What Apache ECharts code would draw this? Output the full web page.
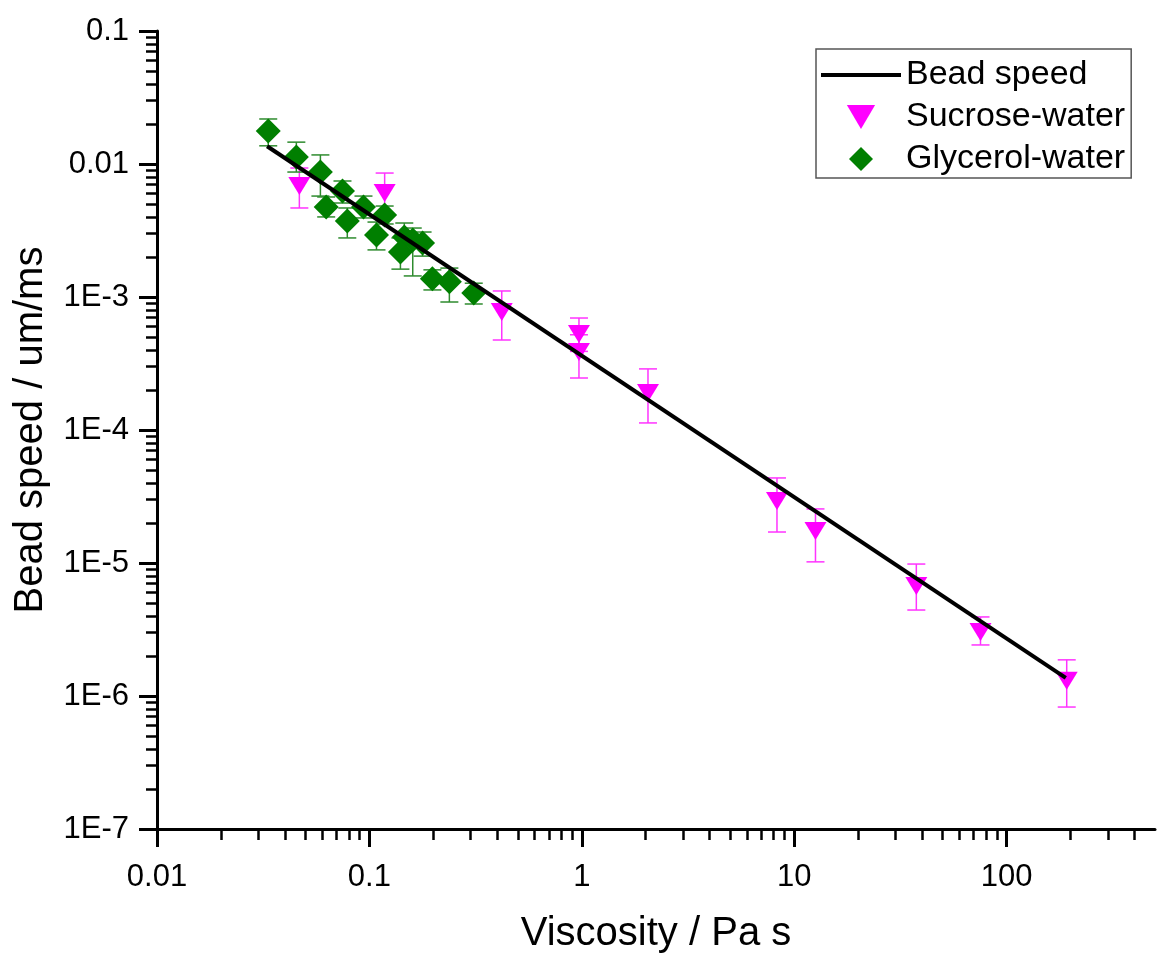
<!DOCTYPE html>
<html>
<head>
<meta charset="utf-8">
<title>Bead speed vs viscosity</title>
<script src="https://cdn.jsdelivr.net/npm/echarts@6/dist/echarts.min.js"></script>
<style>
  html, body { margin: 0; padding: 0; background: #fff; }
  #chart { width: 1158px; height: 957px; }
</style>
</head>
<body>
<div id="chart"></div>
<script>
// fitted line (two end points)
var fitX = [0.033, 190];
var fitY = [0.0136, 1.37e-6];

// sucrose-water: viscosity, speed, error low / high
var sucroseX = [0.0468, 0.118, 0.42, 0.97, 0.97, 2.05, 8.3, 12.6, 37.6, 75.4, 192];
var sucroseY = [6.84e-3, 6.05e-3, 7.71e-4, 5.27e-4, 3.86e-4, 1.90e-4, 2.92e-5, 1.74e-5, 6.71e-6, 3.03e-6, 1.30e-6];
var sucroseLo = [4.67e-3, 4.21e-3, 4.75e-4, 3.9e-4, 2.46e-4, 1.13e-4, 1.71e-5, 1.02e-5, 4.43e-6, 2.42e-6, 8.26e-7];
var sucroseHi = [9.33e-3, 8.55e-3, 1.11e-3, 6.95e-4, 5.2e-4, 2.88e-4, 4.36e-5, 2.55e-5, 9.82e-6, 3.93e-6, 1.87e-6];

// glycerol-water
var glycerolX = [0.0334, 0.0453, 0.0588, 0.0747, 0.0626, 0.0787, 0.0938, 0.108, 0.118, 0.146, 0.140, 0.160, 0.178, 0.198, 0.238, 0.310];
var glycerolY = [0.0177, 0.0113, 8.71e-3, 6.27e-3, 4.75e-3, 3.73e-3, 4.75e-3, 2.92e-3, 4.14e-3, 2.83e-3, 2.18e-3, 2.68e-3, 2.55e-3, 1.37e-3, 1.30e-3, 1.07e-3];
var glycerolLo = [0.0137, 8.7e-3, 5.74e-3, 5.09e-3, 4.0e-3, 2.78e-3, 3.93e-3, 2.26e-3, 3.54e-3, 2.22e-3, 1.62e-3, 1.44e-3, 2.03e-3, 1.13e-3, 9.17e-4, 8.86e-4];
var glycerolHi = [0.0218, 0.0146, 0.0117, 7.45e-3, 5.65e-3, 4.67e-3, 5.74e-3, 3.66e-3, 4.83e-3, 3.60e-3, 2.78e-3, 3.30e-3, 3.08e-3, 1.60e-3, 1.65e-3, 1.27e-3];

// axis ticks
var xMajor = [0.01, 0.1, 1, 10, 100];
var yMajor = [1e-7, 1e-6, 1e-5, 1e-4, 1e-3, 0.01, 0.1];

function minorTicks(lo, hi) {
  var out = [];
  for (var d = lo; d < hi; d *= 10) {
    for (var k = 2; k <= 9; k++) {
      var v = Number((d * k).toPrecision(2));
      if (v < hi) out.push(v);
    }
  }
  return out;
}
var xMinor = minorTicks(0.01, 500);
var yMinor = minorTicks(1e-7, 0.1);

function xFmt(v) {
  return String(Number(v.toPrecision(1)));
}
function yFmt(v) {
  var e = Math.round(Math.log10(v));
  return e >= -2 ? String(Number(v.toPrecision(1))) : '1E' + e;
}

function pairs(xs, ys) {
  return xs.map(function (x, i) { return [x, ys[i]]; });
}
function triples(xs, lo, hi) {
  return xs.map(function (x, i) { return [x, lo[i], hi[i]]; });
}

function errRender(color) {
  return function (params, api) {
    var x = api.value(0);
    var a = api.coord([x, api.value(1)]);
    var b = api.coord([x, api.value(2)]);
    var cap = 9;
    var st = { stroke: color, lineWidth: 1.5 };
    return {
      type: 'group',
      children: [
        { type: 'line', shape: { x1: a[0], y1: a[1], x2: b[0], y2: b[1] }, style: st },
        { type: 'line', shape: { x1: a[0] - cap, y1: a[1], x2: a[0] + cap, y2: a[1] }, style: st },
        { type: 'line', shape: { x1: b[0] - cap, y1: b[1], x2: b[0] + cap, y2: b[1] }, style: st }
      ]
    };
  };
}

var font = 'Liberation Sans, Arial, sans-serif';
var axisColor = '#000';

var chart = echarts.init(document.getElementById('chart'));

var option = {
  animation: false,
  backgroundColor: '#fff',
  textStyle: { fontFamily: font, color: '#000' },
  grid: {
    left: 157,
    right: 3,
    top: 31,
    bottom: 128,
    containLabel: false,
    outerBoundsMode: 'none'
  },
  legend: {
    orient: 'vertical',
    left: 816,
    top: 49,
    itemWidth: 80,
    itemHeight: 24,
    itemGap: 8,
    padding: [9, 6, 2, 3],
    borderColor: '#555',
    borderWidth: 1.5,
    textStyle: { fontSize: 34, color: '#000', fontFamily: font },
    data: [
      { name: 'Bead speed', itemStyle: { opacity: 0 }, lineStyle: { width: 4, color: '#000' } },
      'Sucrose-water',
      'Glycerol-water'
    ]
  },
  xAxis: [
    {
      type: 'log',
      min: 0.01,
      max: 500,
      name: 'Viscosity / Pa s',
      nameLocation: 'middle',
      nameGap: 85,
      nameTextStyle: { fontSize: 40, color: '#000', fontFamily: font },
      axisLine: { show: true, lineStyle: { color: axisColor, width: 3 } },
      axisTick: { show: true, length: 18, lineStyle: { color: axisColor, width: 3 }, customValues: xMajor },
      axisLabel: { fontSize: 31, color: '#000', margin: 33, customValues: xMajor, formatter: xFmt },
      splitLine: { show: false }
    },
    {
      type: 'log',
      min: 0.01,
      max: 500,
      position: 'bottom',
      axisLine: { show: false },
      axisTick: { show: true, length: 11, lineStyle: { color: axisColor, width: 2.5 }, customValues: xMinor },
      axisLabel: { show: false },
      splitLine: { show: false }
    }
  ],
  yAxis: [
    {
      type: 'log',
      min: 1e-7,
      max: 0.1,
      name: 'Bead speed / um/ms',
      nameLocation: 'middle',
      nameGap: 106,
      nameTextStyle: { fontSize: 40, color: '#000', fontFamily: font },
      axisLine: { show: true, lineStyle: { color: axisColor, width: 3 } },
      axisTick: { show: true, length: 18, lineStyle: { color: axisColor, width: 3 }, customValues: yMajor },
      axisLabel: { fontSize: 31, color: '#000', margin: 28, customValues: yMajor, formatter: yFmt },
      splitLine: { show: false }
    },
    {
      type: 'log',
      min: 1e-7,
      max: 0.1,
      position: 'left',
      axisLine: { show: false },
      axisTick: { show: true, length: 11, lineStyle: { color: axisColor, width: 2.5 }, customValues: yMinor },
      axisLabel: { show: false },
      splitLine: { show: false }
    }
  ],
  series: [
    {
      name: 'Sucrose-water err',
      type: 'custom',
      silent: true,
      z: 2,
      renderItem: errRender('#ff33ff'),
      encode: { x: 0, y: [1, 2] },
      data: triples(sucroseX, sucroseLo, sucroseHi)
    },
    {
      name: 'Glycerol-water err',
      type: 'custom',
      silent: true,
      z: 2,
      renderItem: errRender('#2e8b2e'),
      encode: { x: 0, y: [1, 2] },
      data: triples(glycerolX, glycerolLo, glycerolHi)
    },
    {
      name: 'Sucrose-water',
      type: 'scatter',
      z: 3,
      symbol: 'path://M0,0L20,0L10,17Z',
      symbolSize: [22, 18],
      itemStyle: { color: '#ff00ff', opacity: 1 },
      data: pairs(sucroseX, sucroseY)
    },
    {
      name: 'Glycerol-water',
      type: 'scatter',
      z: 4,
      symbol: 'path://M10,0L20,10L10,20L0,10Z',
      symbolSize: 25,
      itemStyle: { color: '#007f00', opacity: 1 },
      data: pairs(glycerolX, glycerolY)
    },
    {
      name: 'Bead speed',
      type: 'line',
      z: 5,
      symbol: 'none',
      showSymbol: false,
      lineStyle: { color: '#000', width: 4 },
      itemStyle: { color: '#000' },
      data: pairs(fitX, fitY)
    }
  ]
};

chart.setOption(option);
</script>
</body>
</html>
